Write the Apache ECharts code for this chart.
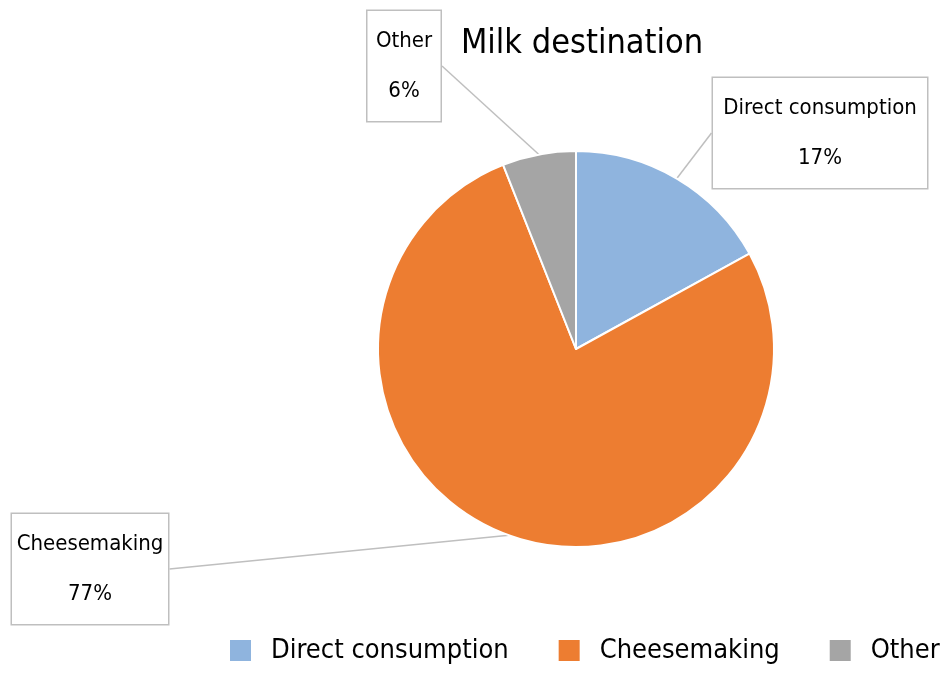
<!DOCTYPE html>
<html>
<head>
<meta charset="utf-8">
<script src="https://cdn.jsdelivr.net/npm/echarts@6/dist/echarts.min.js"></script>
<style>
html,body{margin:0;padding:0;background:#fff;}
#chart{width:945px;height:678px;}
</style>
</head>
<body>
<div id="chart"></div>
<script>
const categories = ['Direct consumption', 'Cheesemaking', 'Other'];
const values = [17, 77, 6];
const colors = ['#8FB4DE', '#ED7D31', '#A5A5A5'];
const titleText = 'Milk destination';

const FONT = "'Liberation Sans Narrow', 'DejaVu Sans Condensed', 'Noto Sans', sans-serif";
const labelPos = [[820, 133], [90, 569], [404, 66]];
const labelBoxW = [194, 136, 53];

const chart = echarts.init(document.getElementById('chart'));
chart.setOption({
  animation: false,
  backgroundColor: '#fff',
  title: {
    text: titleText,
    left: 577,
    textAlign: 'center',
    top: 22,
    textStyle: { fontFamily: FONT, fontSize: 34, fontWeight: 'normal', color: '#000' }
  },
  legend: {
    bottom: 14,
    left: 228,
    width: 717,
    padding: 0,
    itemWidth: 23,
    itemHeight: 23,
    itemGap: 48,
    icon: 'rect',
    textStyle: { fontFamily: FONT, fontSize: 27, color: '#000', padding: [0, 0, 0, 14] },
    data: categories
  },
  series: [{
    type: 'pie',
    center: [576, 349],
    radius: [0, 198],
    startAngle: 90,
    clockwise: true,
    itemStyle: { borderColor: '#fff', borderWidth: 2 },
    label: {
      show: true,
      position: 'outside',
      formatter: '{b}\n{d}%',
      fontFamily: FONT,
      fontSize: 22,
      lineHeight: 50,
      color: '#000',
      align: 'center',
      overflow: 'none',
      backgroundColor: '#fff',
      borderColor: '#BFBFBF',
      borderWidth: 1.5,
      padding: [5, 10, 5, 10]
    },
    labelLine: { show: true, length: 0, length2: 0, lineStyle: { color: '#BFBFBF', width: 1.5 } },
    labelLayout: function (p) {
      const pos = labelPos[p.dataIndex];
      return { x: pos[0], y: pos[1], align: 'center', verticalAlign: 'middle', width: labelBoxW[p.dataIndex] };
    },
    data: categories.map((c, i) => ({ name: c, value: values[i], itemStyle: { color: colors[i] } }))
  }]
});
</script>
</body>
</html>
